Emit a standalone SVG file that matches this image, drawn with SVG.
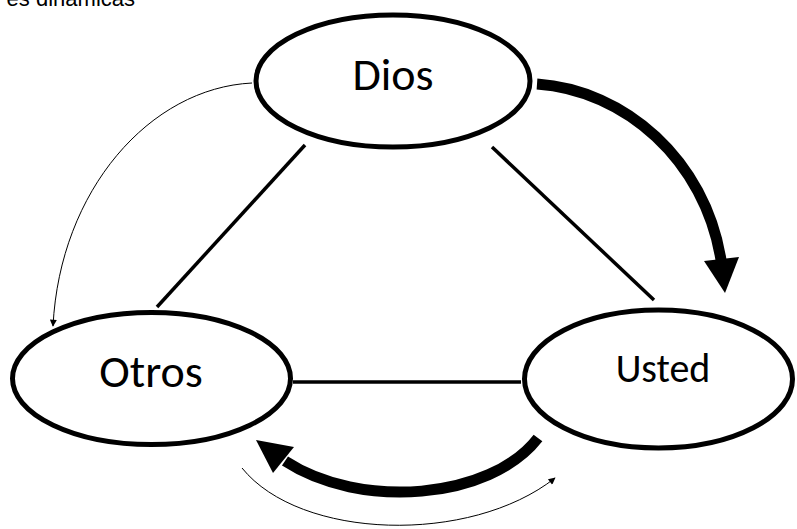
<svg xmlns="http://www.w3.org/2000/svg" width="797" height="529" viewBox="0 0 797 529">
<defs>
<style>
.node{fill:#fff;stroke:#000;stroke-width:5}
.lbl{font-family:Carlito,Lato,"Open Sans",sans-serif;fill:#000;text-anchor:middle}
.line{stroke:#000;stroke-width:3.5;fill:none}
.thick{stroke:#000;stroke-width:11;fill:none}
.thin{stroke:#000;stroke-width:1;fill:none}
</style>
<marker id="sm" viewBox="0 0 10 10" refX="9" refY="5" markerWidth="9" markerHeight="7" markerUnits="userSpaceOnUse" orient="auto">
<path d="M0,0 L10,5 L0,10 Z" fill="#000"/>
</marker>
</defs>
<rect width="797" height="529" fill="#fff"/>
<text x="135" y="6" font-family="Liberation Sans,Arial,sans-serif" font-size="22" text-anchor="end">es dinámicas</text>
<g id="connectors">
<line class="line" x1="305" y1="145" x2="157" y2="307"/>
<line class="line" x1="492" y1="147" x2="654" y2="300"/>
<line class="line" x1="293" y1="382" x2="521" y2="382"/>
<path class="thick" d="M537,84 C625,90 705,160 721,260"/>
<polygon points="704,261 739,257 725,293" fill="#000"/>
<path class="thick" d="M538,438 C490,500 360,510 285,461"/>
<polygon points="273,473 294,447 256,440" fill="#000"/>
<path class="thin" d="M252,83 C150,88 60,190 53,326" marker-end="url(#sm)"/>
<path class="thin" d="M242,468 C300,540 470,545 555,478" marker-end="url(#sm)"/>
</g>
<g id="dios">
<ellipse class="node" cx="393" cy="81" rx="137" ry="66"/>
<text class="lbl" x="393" y="90" font-size="46">Dios</text>
</g>
<g id="otros">
<ellipse class="node" cx="151.5" cy="378.5" rx="139" ry="66"/>
<text class="lbl" x="151" y="387" font-size="46">Otros</text>
</g>
<g id="usted">
<ellipse class="node" cx="658.5" cy="379" rx="134" ry="69"/>
<text class="lbl" x="663" y="382" font-size="40">Usted</text>
</g>
</svg>
